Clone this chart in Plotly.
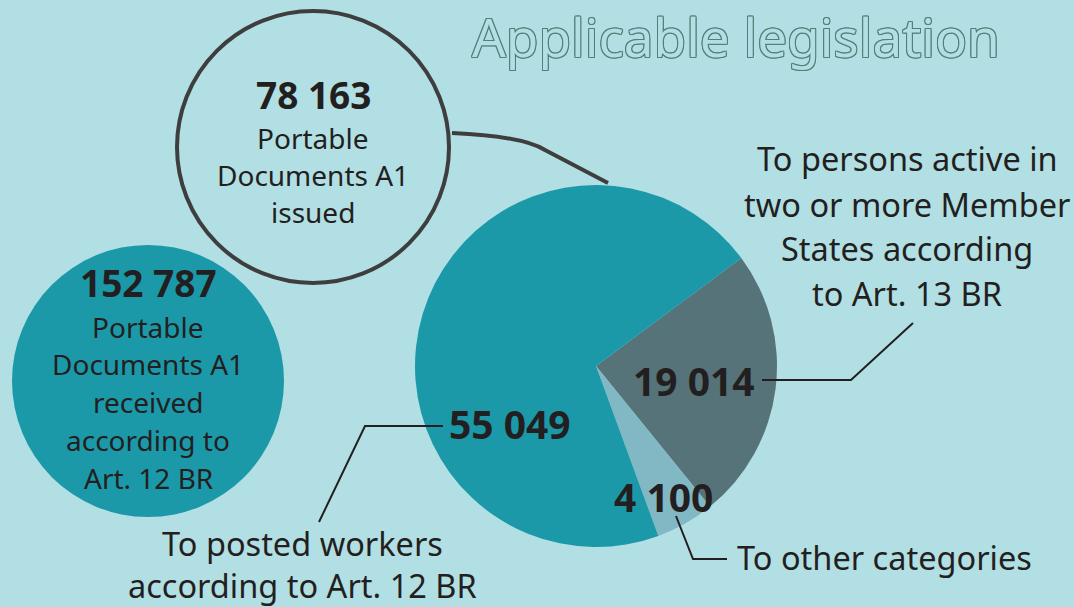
import plotly.graph_objects as go

# slice data, in drawing order (clockwise from the grey slice)
slice_labels = ["To persons active in two or more Member States according to Art. 13 BR",
                "To other categories",
                "To posted workers according to Art. 12 BR"]
slice_values = [19014, 4100, 55049]
slice_colors = ["#557379", "#82b8c4", "#1b99a9"]

issued_total = 78163
received_total = 152787

BG = "#b2dfe4"
INK = "#231f20"
FONT = "Noto Sans"
W, H = 1074, 607


def fmt(n):
    return f"{n:,}".replace(",", " ")


fig = go.Figure()

# empty trace so the pixel-space axes exist for shapes/annotations
fig.add_trace(go.Scatter(x=[], y=[], showlegend=False, hoverinfo="skip"))

# pie centre (596, 366) radius 181 in pixel space
cx, cy, r = 596, 366, 181
fig.add_trace(go.Pie(
    labels=slice_labels,
    values=slice_values,
    marker=dict(colors=slice_colors, line=dict(width=0)),
    sort=False,
    direction="clockwise",
    rotation=53.4,
    textinfo="none",
    hoverinfo="label+value",
    showlegend=False,
    domain=dict(x=[(cx - r) / W, (cx + r) / W],
                y=[(H - cy - r) / H, (H - cy + r) / H]),
))

shapes = [
    # white "issued" circle
    dict(type="circle", x0=177, x1=449, y0=11, y1=283,
         line=dict(color="#3e3e3e", width=4), fillcolor=BG, layer="below"),
    # teal "received" circle
    dict(type="circle", x0=12, x1=284, y0=245, y1=517,
         line=dict(width=0), fillcolor="#1b99a9", layer="below"),
    # connector circle -> pie
    dict(type="path", path="M452,133 Q522,136 545,150 L608,183",
         line=dict(color="#3e3e3e", width=4)),
    # connectors to labels
    dict(type="path", path="M443,426 L365,426 L319,522",
         line=dict(color=INK, width=2)),
    dict(type="path", path="M762,380 L851,380 L913,323",
         line=dict(color=INK, width=2)),
    dict(type="path", path="M676,516 L693,559 L727,559",
         line=dict(color=INK, width=2)),
]


def text_block(lines, x, ys, size, bold_first=False, bold_size=37):
    anns = []
    for i, (t, y) in enumerate(zip(lines, ys)):
        b = bold_first and i == 0
        anns.append(dict(
            x=x, y=y, text=f"<b>{t}</b>" if b else t,
            showarrow=False, xanchor="center", yanchor="middle",
            font=dict(family=FONT, size=bold_size if b else size, color=INK),
        ))
    return anns


annotations = []
annotations += text_block([fmt(issued_total), "Portable", "Documents A1", "issued"],
                          313, [94, 138, 175, 212], 28, bold_first=True)
annotations += text_block([fmt(received_total), "Portable", "Documents A1", "received",
                           "according to", "Art. 12 BR"],
                          148, [282, 327, 364, 402, 440, 478], 28, bold_first=True)
annotations += text_block(["To persons active in", "two or more Member",
                           "States according", "to Art. 13 BR"],
                          907, [158, 204, 248, 293], 32.5)
annotations += text_block(["To posted workers", "according to Art. 12 BR"],
                          302, [543, 585], 32.5)
annotations += text_block(["To other categories"], 884, [557], 32.5)

# slice value labels
for v, (x, y) in zip(slice_values, [(694, 380), (663, 496), (510, 423)]):
    annotations.append(dict(
        x=x, y=y, text=f"<b>{fmt(v)}</b>", showarrow=False,
        xanchor="center", yanchor="middle",
        font=dict(family=FONT, size=39, color=INK),
    ))

# outlined title
oc = "#547f79"
outline = ", ".join(f"{dx}px {dy}px 0 {oc}" for dx, dy in
                    [(1, 0), (-1, 0), (0, 1), (0, -1), (1, 1), (-1, -1), (1, -1), (-1, 1)])
annotations.append(dict(
    x=736, y=36, text="Applicable legislation", showarrow=False,
    xanchor="center", yanchor="middle",
    font=dict(family=FONT, size=53, color=BG, shadow=outline),
))

fig.update_layout(
    width=W, height=H,
    margin=dict(l=0, r=0, t=0, b=0),
    paper_bgcolor=BG, plot_bgcolor=BG,
    xaxis=dict(range=[0, W], visible=False, fixedrange=True),
    yaxis=dict(range=[H, 0], visible=False, fixedrange=True),
    shapes=shapes,
    annotations=annotations,
)

fig.write_html("out.html", config={"displayModeBar": False},
               post_script="document.body.style.margin='0';")
